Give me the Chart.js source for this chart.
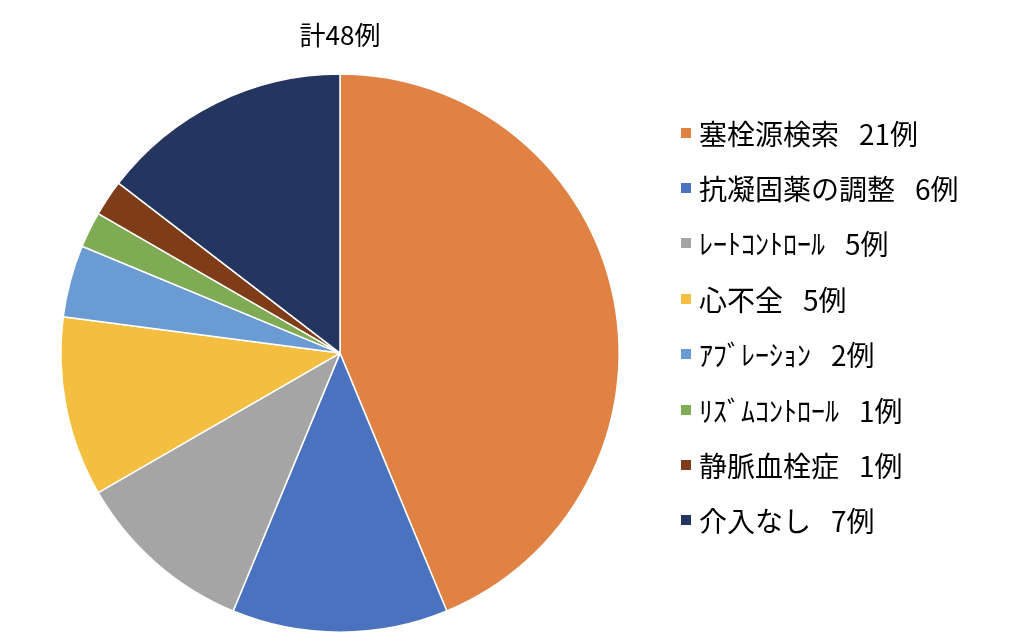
<!DOCTYPE html>
<html>
<head>
<meta charset="utf-8">
<script src="https://cdn.jsdelivr.net/npm/chart.js@4/dist/chart.umd.min.js"></script>
<style>
    html, body { margin: 0; padding: 0; background: #fff; }
    #wrap { position: relative; width: 1024px; height: 643px; }
    #legend {
        position: absolute;
        left: 681px;
        top: 105px;
        font-family: 'Noto Sans CJK JP', sans-serif;
        font-size: 28px;
        color: #000;
    }
    .item { display: flex; align-items: center; height: 55.4px; white-space: pre; }
    .box { width: 10px; height: 10px; margin-right: 8px; }
    .num { margin-left: 20px; }
</style>
</head>
<body>
<div id="wrap">
    <canvas id="chart" width="1024" height="643"></canvas>
    <div id="legend"></div>
</div>
<script>
const labels = ['塞栓源検索', '抗凝固薬の調整', 'ﾚｰﾄｺﾝﾄﾛｰﾙ', '心不全', 'ｱﾌﾞﾚｰｼｮﾝ', 'ﾘｽﾞﾑｺﾝﾄﾛｰﾙ', '静脈血栓症', '介入なし'];
const counts = [21, 6, 5, 5, 2, 1, 1, 7];
const colors = ['#DF8244', '#4A72BF', '#A5A5A5', '#F4BF41', '#6A9BD3', '#7FAB55', '#7E3C18', '#243660'];
const title = '計48例';

const legend = document.getElementById('legend');
labels.forEach((label, index) => {
    const row = document.createElement('div');
    row.className = 'item';
    const box = document.createElement('span');
    box.className = 'box';
    box.style.background = colors[index];
    const text = document.createElement('span');
    text.textContent = label;
    const num = document.createElement('span');
    num.className = 'num';
    num.textContent = `${counts[index]}例`;
    row.appendChild(box);
    row.appendChild(text);
    row.appendChild(num);
    legend.appendChild(row);
});

new Chart(document.getElementById('chart'), {
    type: 'pie',
    data: {
        labels,
        datasets: [{
            data: counts,
            backgroundColor: colors,
            borderColor: '#ffffff',
            borderWidth: 1.5,
            hoverOffset: 0,
        }],
    },
    options: {
        responsive: false,
        animation: false,
        layout: { padding: { left: 0, right: 344, top: 0, bottom: 10 } },
        plugins: {
            legend: { display: false },
            tooltip: { enabled: false },
            title: {
                display: true,
                text: title,
                color: '#000',
                font: { family: "'Noto Sans CJK JP', sans-serif", size: 26, weight: 'normal' },
                padding: { top: 20, bottom: 22 },
            },
        },
    },
});
</script>
</body>
</html>
